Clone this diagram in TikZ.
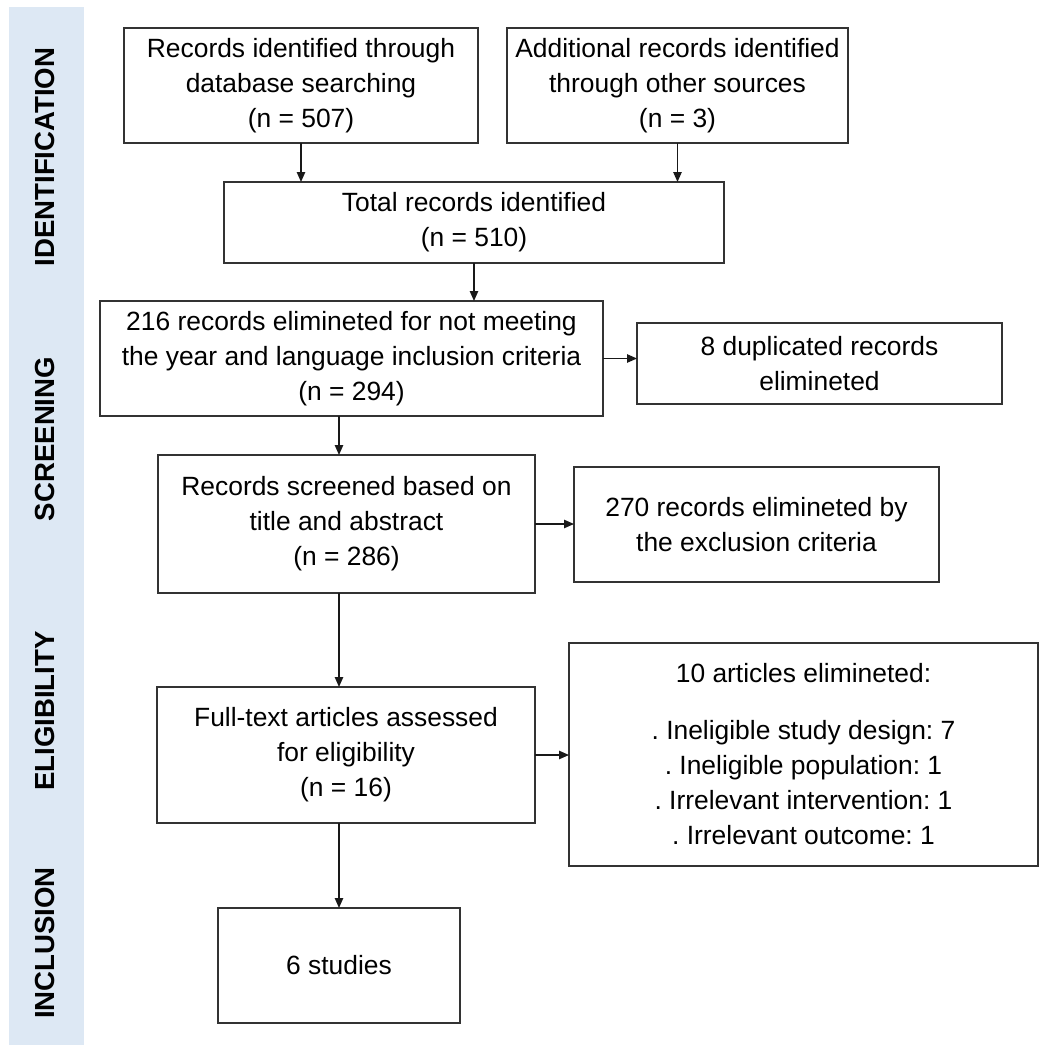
\documentclass[tikz,border=0pt]{standalone}
\usepackage{fontspec}
\setmainfont{Liberation Sans}
\usetikzlibrary{arrows.meta}
\definecolor{fascia}{RGB}{221,232,244}

\begin{document}
\begin{tikzpicture}[x=0.5pt, y=-0.5pt, >={Triangle[length=5pt,width=4.2pt]},
        box/.style={draw=black!80, line width=0.8pt, inner sep=0pt, outer sep=0pt, align=center,
            font=\fontsize{13.2}{17.5}\selectfont\frenchspacing},
        fase/.style={rotate=90, font=\fontsize{13.8}{16}\selectfont\bfseries},
        freccia/.style={->, line width=0.7pt, black!90}]
            \useasboundingbox (0,0) rectangle (1041,1051);
            % Fascia
            \fill[fascia] (9,7) rectangle (84,1045);
            \node[fase] (fid) at (45,157) {IDENTIFICATION};
            \node[fase] (fscr) at (45,439) {SCREENING};
            \node[fase] (fel) at (45,711) {ELIGIBILITY};
            \node[fase] (finc) at (45,943) {INCLUSION};
            % Riquadri
            \node[box, minimum width=177pt, minimum height=57.5pt] (A) at (301,85.5)
                {Records identified through\\database searching\\(n = 507)};
            \node[box, minimum width=170.5pt, minimum height=57.5pt] (B) at (677.5,85.5)
                {Additional records identified\\through other sources\\(n = 3)};
            \node[box, minimum width=250pt, minimum height=40.5pt] (C) at (474,222.5)
                {Total records identified\\(n = 510)};
            \node[box, minimum width=251.5pt, minimum height=57.5pt] (D) at (351.5,358.5)
                {216 records elimineted for not meeting\\the year and language inclusion criteria\\(n = 294)};
            \node[box, minimum width=182.5pt, minimum height=40.5pt] (E) at (819.5,363.5)
                {8 duplicated records\\elimineted};
            \node[box, minimum width=188.5pt, minimum height=69pt] (F) at (346.5,524)
                {Records screened based on\\title and abstract\\(n = 286)};
            \node[box, minimum width=182.5pt, minimum height=57.5pt] (G) at (756.5,524.5)
                {270 records elimineted by\\the exclusion criteria};
            \node[box, minimum width=189pt, minimum height=68pt] (H) at (346,755)
                {Full-text articles assessed\\for eligibility\\(n = 16)};
            \node[box, minimum width=234.5pt, minimum height=111.5pt] (I) at (803.5,754.5)
                {10 articles elimineted:\\[11pt]. Ineligible study design: 7\\. Ineligible population: 1\\. Irrelevant intervention: 1\\. Irrelevant outcome: 1};
            \node[box, minimum width=121pt, minimum height=57.5pt] (J) at (339,965.5)
                {6 studies};
            % Frecce
            \draw[freccia] (A.south) -- (A.south |- C.north);
            \draw[freccia] (B.south) -- (B.south |- C.north);
            \draw[freccia] (C.south) -- (C.south |- D.north);
            \draw[freccia] (D.east) -- (D.east -| E.west);
            \draw[freccia] (D.south -| J) -- (F.north -| J);
            \draw[freccia] (F.east) -- (F.east -| G.west);
            \draw[freccia] (F.south -| J) -- (H.north -| J);
            \draw[freccia] (H.east) -- (H.east -| I.west);
            \draw[freccia] (H.south -| J) -- (J.north);
        \end{tikzpicture}
\end{document}
